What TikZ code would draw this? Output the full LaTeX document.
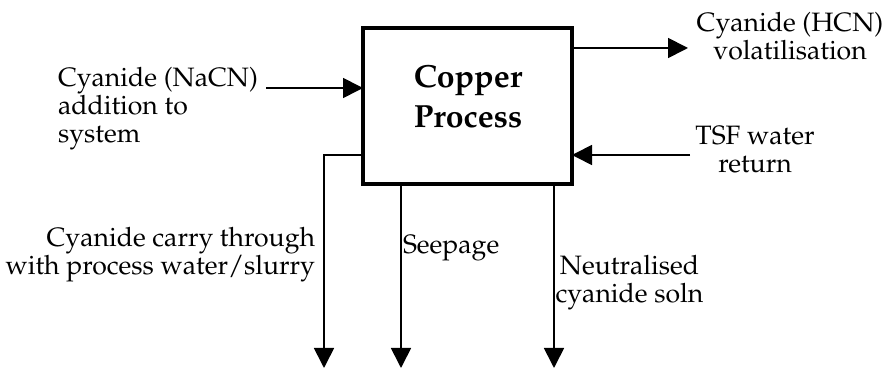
\documentclass[tikz,border=0pt]{standalone}
\usepackage[T1]{fontenc}
\usepackage{mathpazo}
\usetikzlibrary{arrows.meta}
\begin{document}
\begin{tikzpicture}[x=0.5pt,y=-0.5pt,
  lbl/.style={inner sep=0pt,outer sep=0pt,font=\fontsize{13.3}{14}\selectfont},
  flow/.style={line width=0.85pt,-{Triangle[length=10pt,width=10pt]}},
  procbox/.style={draw,line width=1.9pt,outer sep=0pt,inner sep=0pt,
    minimum width=104.5pt,minimum height=78pt},
  title/.style={inner sep=0pt,outer sep=0pt,align=center,
    font=\fontsize{16}{20}\selectfont\bfseries}]
\useasboundingbox (0,0) rectangle (889,368);
\node[procbox] (box) at (467.5,106) {};
\node[title,anchor=base] (name) at (468,128) {Copper\\Process};
\coordinate (nacn) at (266,88);
\coordinate (hcn) at (688,48);
\coordinate (tsf) at (690,155);
\coordinate (c1) at (324,368);
\coordinate (s1) at (401,368);
\coordinate (n1) at (554,368);
\draw[flow] (nacn) -- (nacn -| box.west);
\draw[flow] (hcn -| box.east) -- (hcn);
\draw[flow] (tsf) -- (tsf -| box.east);
\draw[flow] (box.west |- tsf) -| (c1);
\draw[flow] (s1 |- box.south) -- (s1);
\draw[flow] (n1 |- box.south) -- (n1);
\node[lbl,anchor=base west,align=left] (tn) at (58,143) {Cyanide (NaCN)\\addition to\\system};
\node[lbl,anchor=base,align=center] (th) at (790,60) {Cyanide (HCN)\\volatilisation};
\node[lbl,anchor=base,align=center] (tt) at (755,173) {TSF water\\return};
\node[lbl,anchor=base east,align=right] (tc) at (315,275) {Cyanide carry through\\with process water/slurry};
\node[lbl,anchor=base west] (ts) at (403,254) {Seepage};
\node[lbl,anchor=base,align=center] (tu) at (629.5,303) {Neutralised\\cyanide soln};
\end{tikzpicture}
\end{document}
